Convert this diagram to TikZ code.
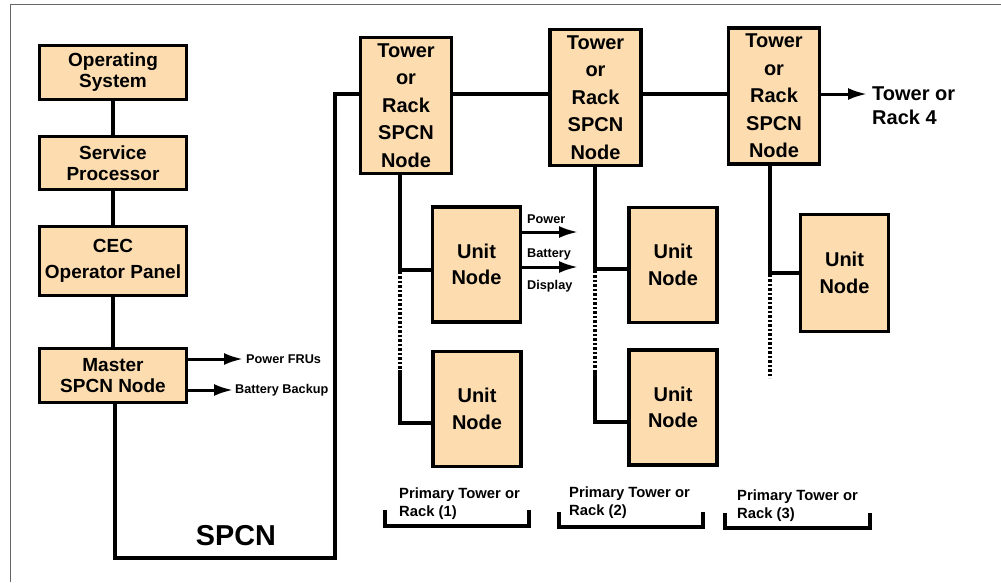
\documentclass[tikz,border=0pt]{standalone}
\usepackage{fontspec}
\setmainfont{Liberation Sans}
\usetikzlibrary{arrows.meta,positioning}
\definecolor{nodefill}{HTML}{FDDDB0}

\begin{document}
\begin{tikzpicture}[x=1pt,y=-1pt,
  spcnbox/.style={draw,line width=3.5pt,fill=nodefill,align=center,inner sep=0pt},
  leftbox/.style={spcnbox,minimum width=147pt,font=\fontsize{19}{21}\selectfont\bfseries},
  towerbox/.style={spcnbox,minimum width=91pt,minimum height=136pt,font=\fontsize{20}{27.5}\selectfont\bfseries},
  unitbox/.style={spcnbox,minimum width=88pt,minimum height=115pt,font=\fontsize{20}{26.5}\selectfont\bfseries},
  wire/.style={line width=3.5pt},
  dotwire/.style={line width=3.5pt,dash pattern=on 2.5pt off 2pt},
  feed/.style={line width=3pt,-{Latex[length=19pt,width=12pt]}},
  lbl/.style={font=\fontsize{12.7}{15}\selectfont\bfseries,inner sep=0pt,anchor=west},
  caption/.style={font=\fontsize{14.8}{18}\selectfont\bfseries,inner sep=0pt,anchor=west,align=left}]
\useasboundingbox (0,0) rectangle (1001,582);
\draw[black!60,line width=1pt] (10.5,582) -- (10.5,4.5) -- (1001,4.5);
% left column
\node[leftbox,minimum height=54pt] (os) at (113,72.5) {Operating\\System};
\node[leftbox,minimum height=53pt] (sp) at (113,163) {Service\\Processor};
\node[leftbox,minimum height=69pt] (cec) at (113,261) {CEC\\[5pt]Operator Panel};
\node[leftbox,minimum height=54pt] (master) at (113,375.5) {Master\\SPCN Node};
\draw[wire] (os) -- (sp) (sp) -- (cec) (cec) -- (master);
\node[lbl] (frus) at (246,359) {Power FRUs};
\node[lbl] (backup) at (235,390) {Battery Backup};
\draw[feed] (master.east |- frus) -- ([xshift=-3pt]frus.west);
\draw[feed] (master.east |- backup) -- ([xshift=-2pt]backup.west);
% towers
\node[towerbox] (t1) at (406,105.5) {Tower\\or\\Rack\\SPCN\\Node};
\node[towerbox] (t2) at (595.5,97.5) {Tower\\or\\Rack\\SPCN\\Node};
\node[towerbox] (t3) at (774,96) {Tower\\or\\Rack\\SPCN\\Node};
\node[anchor=west,align=left,inner sep=0pt,font=\fontsize{20}{24}\selectfont\bfseries] (rack4) at (872,106) {Tower or\\Rack 4};
\coordinate (bus) at (335,94);
\coordinate (loop) at (115,558);
\draw[wire] (master.south -| loop) -- (loop) -| (bus) -- (bus -| t1.west);
\draw[wire] (bus -| t1.east) -- (bus -| t2.west) (bus -| t2.east) -- (bus -| t3.west);
\draw[feed] (bus -| t3.east) -- ([xshift=-5pt]rack4.west |- bus);
\node[font=\fontsize{28.8}{30}\selectfont\bfseries] (spcn) at (236,536) {SPCN};
% unit nodes
\node[unitbox] (u1a) at (476.5,264.5) {Unit\\Node};
\node[unitbox] (u1b) at (477,409) {Unit\\Node};
\node[unitbox] (u2a) at (673,265) {Unit\\Node};
\node[unitbox] (u2b) at (673,407.5) {Unit\\Node};
\node[unitbox,minimum height=117pt] (u3a) at (844.5,273) {Unit\\Node};
\node[lbl] (upow) at (527,219) {Power};
\node[lbl] (ubat) at (527,254) {Battery};
\node[lbl] (udisp) at (527,286) {Display};
\coordinate (pw) at (578,232);
\coordinate (bt) at (578,267);
\draw[feed] (u1a.east |- pw) -- (pw);
\draw[feed] (u1a.east |- bt) -- (bt);
\coordinate (j1) at (400,270); \coordinate (d1) at (400,370); \coordinate (e1) at (400,423);
\coordinate (j2) at (595,269); \coordinate (d2) at (595,370); \coordinate (e2) at (595,422);
\coordinate (j3) at (770,273); \coordinate (d3) at (770,378);
\draw[wire] (t1.south -| j1) -- (j1) -- (j1 -| u1a.west);
\draw[dotwire] ([yshift=3pt]j1) -- (d1);
\draw[wire] (d1) -- (e1) -- (e1 -| u1b.west);
\draw[wire] (t2.south -| j2) -- (j2) -- (j2 -| u2a.west);
\draw[dotwire] ([yshift=3pt]j2) -- (d2);
\draw[wire] (d2) -- (e2) -- (e2 -| u2b.west);
\draw[wire] (t3.south -| j3) -- (j3) -- (j3 -| u3a.west);
\draw[dotwire] ([yshift=3pt]j3) -- (d3);
% brackets
\draw[wire] (385,510) |- (529,526) -- (529,510);
\draw[wire] (559,512) |- (703,527) -- (703,512);
\draw[wire] (725,513) |- (870,528) -- (870,513);
\node[caption] (rack1) at (399,504) {Primary Tower or\\Rack (1)};
\node[caption] (rack2) at (569,502.5) {Primary Tower or\\Rack (2)};
\node[caption] (rack3) at (737,505.5) {Primary Tower or\\Rack (3)};
\end{tikzpicture}
\end{document}
